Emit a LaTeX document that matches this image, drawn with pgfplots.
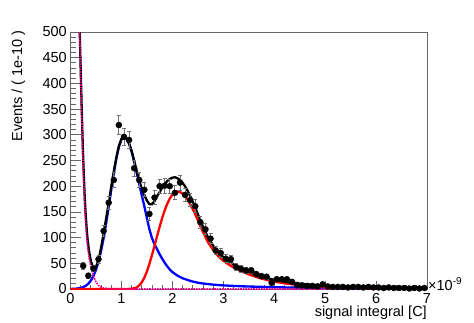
\documentclass[border=0pt]{standalone}
\usepackage{fontspec}
\setmainfont{Liberation Sans}
\usepackage{pgfplots}
\usepackage{pgfplotstable}
\pgfplotsset{compat=1.18}

% binned data: bin centre, events, error
\pgfplotstableread{
x y e
0.25 45 6.7
0.35 26 5.1
0.45 40 6.3
0.55 58 7.6
0.65 113 10.6
0.75 168 13.0
0.85 212 14.6
0.95 319 17.9
1.05 296 17.2
1.15 290 17.0
1.25 235 15.3
1.35 212 14.6
1.45 193 13.9
1.55 146 12.1
1.65 178 13.3
1.75 200 14.1
1.85 201 14.2
1.95 200 14.1
2.05 187 13.7
2.15 207 14.4
2.25 183 13.5
2.35 173 13.2
2.45 161 12.7
2.55 130 11.4
2.65 116 10.8
2.75 98 9.9
2.85 75 8.7
2.95 70 8.4
3.05 59 7.7
3.15 58 7.6
3.25 43 6.6
3.35 39 6.2
3.45 36 6.0
3.55 36 6.0
3.65 29 5.4
3.75 25 5.0
3.85 24 4.9
3.95 12 3.5
4.05 19 4.4
4.15 19 4.4
4.25 19 4.4
4.35 14 3.7
4.45 8 2.8
4.55 7 2.6
4.65 6 2.4
4.75 6 2.4
4.85 5 2.2
4.95 9 3.0
5.05 5 2.2
5.15 4 2.0
5.25 4 2.0
5.35 4 2.0
5.45 3 1.7
5.55 4 2.0
5.65 4 2.0
5.75 3 1.7
5.85 4 2.0
5.95 3 1.7
6.05 3 1.7
6.15 2 1.4
6.25 3 1.7
6.35 2 1.4
6.45 2 1.4
6.55 2 1.4
6.65 1 1.0
6.75 2 1.4
6.85 1 1.0
6.95 2 1.4
}\datatab

% total fit
\pgfplotstableread{
x y
0.17 545
0.18 505
0.2 428
0.22 352
0.24 283
0.26 225
0.28 177
0.3 142
0.32 114
0.34 92
0.37 70
0.4 55
0.43 45
0.46 41
0.48 41
0.5 43
0.55 56
0.6 80
0.65 108
0.7 137
0.75 167
0.8 199
0.85 229
0.9 256
0.95 278
1.0 292
1.05 297
1.1 292
1.15 283.2
1.2 268.5
1.25 249.5
1.3 229
1.35 211
1.4 195
1.45 183
1.5 172
1.55 165
1.6 165
1.65 171
1.7 180.5
1.75 188.5
1.8 197
1.85 204
1.9 210
1.95 214
2.0 216.5
2.05 217.5
2.1 215.5
2.15 212
2.2 206.5
2.25 199.7
2.3 191
2.35 181
2.4 170
2.45 158.3
2.5 145.8
2.55 133.5
2.6 121.7
2.7 100.6
2.8 84.5
2.9 71.7
3.0 62
3.1 54.5
3.2 48
3.3 42.6
3.4 37.7
3.5 33.3
3.6 29.5
3.7 26.1
3.8 23.1
3.9 20.3
4.0 17.8
4.2 14.2
4.4 11.3
4.6 9.3
4.8 7.75
5.0 6.4
5.5 4.1
6.0 2.8
6.5 1.9
7.0 1.3
}\totaltab

% first peak component
\pgfplotstableread{
x y
0 0
0.1 0.5
0.2 2.1
0.25 3.7
0.3 6.3
0.35 10.3
0.4 16.3
0.45 25.1
0.5 37.2
0.55 53.3
0.6 73.8
0.65 98.8
0.7 127.8
0.75 159.7
0.8 192.8
0.85 225.0
0.9 253.7
0.95 276.4
1.0 291.0
1.05 296.0
1.1 292
1.15 283
1.2 268
1.25 248
1.3 226
1.35 204
1.4 182
1.45 161
1.5 138
1.55 116
1.6 99
1.65 87
1.7 77.5
1.75 67.5
1.8 59
1.85 51
1.9 44
1.95 38
2.0 33
2.1 26
2.2 21
2.3 17.5
2.4 14.5
2.5 12.3
2.6 10.7
2.8 8.5
3.0 7
3.25 5.8
3.5 4.8
4.0 3.5
4.5 2.6
5.0 2
5.5 1.5
6.0 1.2
6.5 0.9
7.0 0.7
}\bluetab

% second peak component
\pgfplotstableread{
x y
0 0
1.1 0
1.15 0.2
1.2 0.5
1.25 1.5
1.3 3
1.35 7
1.4 13
1.45 22
1.5 34
1.55 49
1.6 66
1.65 84
1.7 103
1.75 121
1.8 138
1.85 153
1.9 166
1.95 176
2.0 183.5
2.05 188
2.1 189.5
2.15 188.5
2.2 185.5
2.25 180.5
2.3 173.5
2.35 165
2.4 155.5
2.45 145
2.5 133.5
2.55 122
2.6 111
2.7 91
2.8 76
2.9 64
3.0 55
3.1 48
3.2 42
3.3 37
3.4 32.5
3.5 28.5
3.6 25
3.7 21.8
3.8 19
3.9 16.5
4.0 14.3
4.2 11
4.4 8.5
4.6 6.8
4.8 5.5
5.0 4.4
5.5 2.6
6.0 1.6
6.5 1.0
7.0 0.6
}\redtab

% pedestal component
\pgfplotstableread{
x y
0.17 540
0.18 500
0.2 420
0.22 340
0.24 268
0.26 210
0.28 162
0.3 126
0.32 98
0.34 78
0.37 58
0.4 43
0.43 32
0.46 23
0.5 14
0.55 7
0.6 3.5
0.65 1.8
0.7 1
0.8 0.3
1.0 0.05
1.5 0
7.0 0
}\pedtab

\begin{document}
\begin{tikzpicture}[font=\fontsize{14.5}{17}\selectfont]
\useasboundingbox (-70.5pt,-33pt) rectangle (403.5pt,289pt);
\begin{axis}[
    scale only axis,
    width=356.5pt,
    height=257pt,
    xmin=0, xmax=7,
    ymin=0, ymax=500,
    xtick={0,1,...,7},
    ytick={0,50,...,500},
    minor x tick num=4,
    minor y tick num=4,
    tick align=inside,
    xtick pos=left,
    ytick pos=left,
    major tick length=10.7pt,
    minor tick length=5.4pt,
    xtick style={/pgfplots/major tick length=7.7pt, /pgfplots/minor tick length=3.9pt},
    tick style={black!60, line width=0.8pt},
    axis line style={black!60, line width=0.9pt},
    /pgf/number format/assume math mode=true,
    tick label style={font=\fontsize{14.5}{17}\selectfont, inner sep=0pt},
    yticklabel style={xshift=-3.5pt},
    xticklabel style={yshift=-4pt},
]
\addplot[blue, line width=2.3pt, no marks] table {\bluetab};
\addplot[red, line width=2.3pt, no marks] table {\redtab};
\addplot[black, line width=2.3pt, no marks] table {\totaltab};
\addplot[magenta, densely dotted, line width=1.6pt, no marks] table {\pedtab};
\addplot[only marks, mark=*, mark size=3pt, black,
    error bars/.cd, y dir=both, y explicit,
    error bar style={black!55, line width=0.9pt},
    error mark options={rotate=90, mark size=2pt, black!55, line width=0.9pt}]
    table[x=x, y=y, y error=e] {\datatab};
\end{axis}
\node[rotate=90, anchor=base east, inner sep=0pt] at (-48.3pt,259pt) {Events / ( 1e-10 )};
\node[anchor=base east, inner sep=0pt] at (356.5pt,-27pt) {signal integral [C]};
\node[anchor=base west, inner sep=0pt] at (357.5pt,-1pt) {×10\raisebox{5.5pt}{\fontsize{10}{12}\selectfont -9}};
\end{tikzpicture}
\end{document}
